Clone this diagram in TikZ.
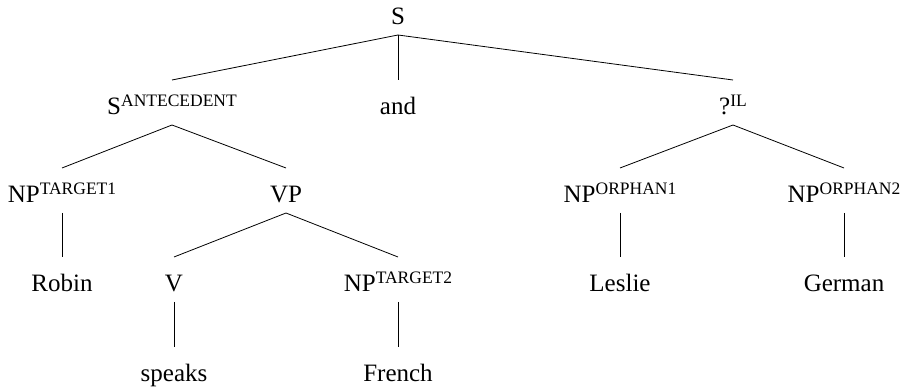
\documentclass[tikz,border=0pt]{standalone}
\usepackage{fontspec}
\setmainfont{Liberation Serif}
\newcommand\feat[1]{\raisebox{8pt}{\fontsize{17.5}{20}\selectfont #1}}
\begin{document}
\begin{tikzpicture}[x=1pt,y=1pt,
  tn/.style={inner sep=0pt, anchor=base, font=\fontsize{25}{30}\selectfont},
  edge/.style={line width=0.8pt}]
\useasboundingbox (0,0) rectangle (904,390);
% rows (baselines measured from top): 25, 115, 203, 292, 382
\node[tn] (S)   at (398,365) {S};
\node[tn] (SA)  at (172,275) {S\feat{ANTECEDENT}};
\node[tn] (and) at (398,275) {and};
\node[tn] (IL)  at (733,275) {?\feat{IL}};
\node[tn] (NPt1) at (62,187) {NP\feat{TARGET1}};
\node[tn] (VP)   at (286,187) {VP};
\node[tn] (NPo1) at (620,187) {NP\feat{ORPHAN1}};
\node[tn] (NPo2) at (844,187) {NP\feat{ORPHAN2}};
\node[tn] (Robin) at (62,98) {Robin};
\node[tn] (V)     at (174,98) {V};
\node[tn] (NPt2)  at (398,98) {NP\feat{TARGET2}};
\node[tn] (Leslie) at (620,98) {Leslie};
\node[tn] (German) at (844,98) {German};
\node[tn] (speaks) at (174,8) {speaks};
\node[tn] (French) at (398,8) {French};
\foreach \p/\c in {S/SA,S/and,S/IL,SA/NPt1,SA/VP,IL/NPo1,IL/NPo2,
                   NPt1/Robin,VP/V,VP/NPt2,NPo1/Leslie,NPo2/German,
                   V/speaks,NPt2/French}
  \draw[edge] ([yshift=-10pt]\p.base) -- ([yshift=35pt]\c.base);
\end{tikzpicture}
\end{document}
